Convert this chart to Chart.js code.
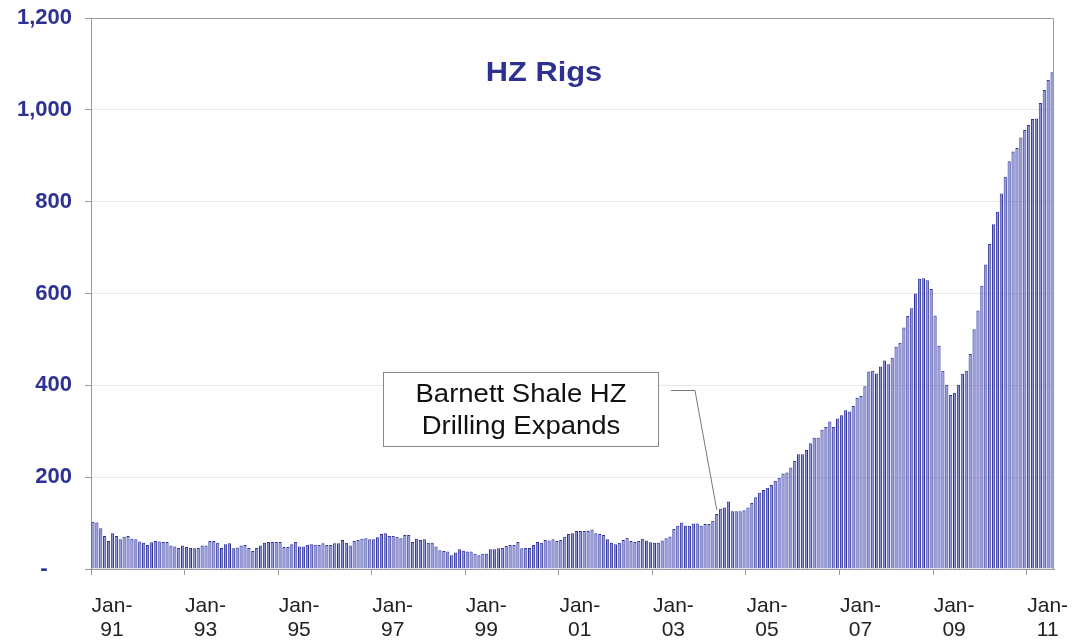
<!DOCTYPE html>
<html>
<head>
<meta charset="utf-8">
<script src="https://cdn.jsdelivr.net/npm/chart.js@4.4.1/dist/chart.umd.min.js"></script>
<style>
  html, body { margin: 0; padding: 0; background: #fff; }
  #wrap { width: 1073px; height: 644px; position: relative; }
</style>
</head>
<body>
<div id="wrap"><canvas id="rigChart"></canvas></div>
<script>
const TITLE = 'HZ Rigs';
const NOTE = ['Barnett Shale HZ', 'Drilling Expands'];
const NOTE_INDEX = 160; // May-04, where the leader line points

// monthly horizontal rig count, Jan-91 .. Jul-11
const hzRigs = [
  103, 101, 89, 72, 61, 78, 72, 65, 70, 72, 66, 65,          // 1991
  60, 57, 52, 58, 61, 60, 59, 59, 51, 49, 46, 51,            // 1992
  48, 46, 45, 46, 51, 51, 61, 61, 57, 46, 54, 56,            // 1993
  45, 47, 51, 52, 46, 39, 46, 51, 57, 59, 59, 59,            // 1994
  59, 48, 48, 54, 59, 49, 49, 53, 54, 53, 52, 56,            // 1995
  52, 52, 56, 56, 63, 57, 51, 61, 63, 66, 67, 65,            // 1996
  65, 69, 76, 78, 72, 72, 70, 67, 74, 74, 59, 66,            // 1997
  63, 65, 57, 57, 49, 41, 39, 38, 30, 36, 43, 40,            // 1998
  38, 38, 33, 30, 33, 33, 43, 43, 45, 46, 50, 52,            // 1999
  52, 59, 45, 46, 46, 52, 59, 57, 63, 62, 65, 61,            // 2000
  63, 70, 76, 78, 83, 83, 83, 83, 86, 78, 76, 74,            // 2001
  65, 57, 54, 57, 63, 68, 61, 59, 61, 66, 62, 58,            // 2002
  57, 57, 62, 67, 71, 87, 94, 101, 94, 94, 99, 99,           // 2003
  94, 98, 98, 105, 120, 131, 134, 147, 126, 126, 126, 128,   // 2004
  134, 144, 156, 166, 172, 177, 183, 192, 199, 208, 210, 221,// 2005
  235, 250, 250, 259, 274, 286, 286, 303, 309, 321, 309, 328,// 2006
  335, 346, 343, 355, 373, 377, 398, 430, 432, 426, 441, 454,// 2007
  446, 460, 484, 493, 526, 551, 568, 600, 632, 633, 629, 610,// 2008
  552, 486, 432, 401, 379, 384, 401, 425, 432, 468, 522, 563,// 2009
  617, 663, 708, 751, 778, 818, 854, 888, 909, 917, 940, 956,// 2010
  967, 980, 981, 1015, 1043, 1065, 1082                      // 2011
];

const MON = ['Jan','Feb','Mar','Apr','May','Jun','Jul','Aug','Sep','Oct','Nov','Dec'];
const months = [];
for (let i = 0; i < hzRigs.length; i++) {
  const yr = String((1991 + Math.floor(i / 12)) % 100).padStart(2, '0');
  months.push(MON[i % 12] + '-' + yr);
}

const TICK_EVERY = 24;
const yearTicks = ['91', '93', '95', '97', '99', '01', '03', '05', '07', '09', '11'];

const BLUE = '#2E3192';
const FONT = '"Liberation Sans", Arial, sans-serif';
Chart.defaults.font.family = FONT;

function wideText(ctx, txt, x, y, sx) {
  ctx.save();
  ctx.translate(x, y);
  ctx.scale(sx, 1);
  ctx.fillText(txt, 0, 0);
  ctx.restore();
}

const overlay = {
  id: 'overlay',
  afterDatasetsDraw(chart) {
    const { ctx, chartArea: a, scales } = chart;
    ctx.save();
    // frame on top and right
    ctx.strokeStyle = '#999';
    ctx.lineWidth = 1;
    ctx.beginPath();
    ctx.moveTo(a.left, a.top + 0.5);
    ctx.lineTo(a.right - 0.5, a.top + 0.5);
    ctx.lineTo(a.right - 0.5, a.bottom);
    ctx.stroke();

    // title
    ctx.fillStyle = BLUE;
    ctx.font = 'bold 28px ' + FONT;
    ctx.textAlign = 'center';
    ctx.textBaseline = 'alphabetic';
    wideText(ctx, TITLE, 544, 81, 1.1);

    // callout leader
    const px = scales.x.getPixelForValue(NOTE_INDEX);
    const py = scales.y.getPixelForValue(hzRigs[NOTE_INDEX]) - 4;
    ctx.strokeStyle = '#777';
    ctx.beginPath();
    ctx.moveTo(671, 390.5);
    ctx.lineTo(695, 390.5);
    ctx.lineTo(px, py);
    ctx.stroke();

    // callout box
    ctx.fillStyle = '#fff';
    ctx.fillRect(383, 372, 276, 75);
    ctx.strokeStyle = '#888';
    ctx.strokeRect(383.5, 372.5, 275, 74);
    ctx.fillStyle = '#111';
    ctx.font = '25px ' + FONT;
    wideText(ctx, NOTE[0], 521, 402, 1.1);
    wideText(ctx, NOTE[1], 521, 434, 1.1);
    ctx.restore();
  }
};

new Chart(document.getElementById('rigChart'), {
  type: 'bar',
  data: {
    labels: months,
    datasets: [{
      label: TITLE,
      data: hzRigs,
      backgroundColor: '#8E92D5',
      borderColor: '#2E319C',
      borderWidth: 1,
      barPercentage: 0.82,
      categoryPercentage: 1
    }]
  },
  options: {
    responsive: true,
    maintainAspectRatio: false,
    animation: false,
    layout: { padding: { top: 18, right: 19, left: 0, bottom: 0 } },
    plugins: {
      legend: { display: false },
      tooltip: { enabled: false }
    },
    scales: {
      x: {
        offset: true,
        grid: {
          offset: true,
          drawOnChartArea: false,
          tickLength: 6,
          color: c => (c.index % TICK_EVERY === 0 ? '#999' : 'rgba(0,0,0,0)')
        },
        border: { color: '#999' },
        ticks: {
          autoSkip: false,
          maxRotation: 0,
          minRotation: 0,
          padding: 19,
          labelOffset: 19,
          color: '#222',
          font: { size: 21, lineHeight: 1.15 },
          callback: (v, i) => (i % TICK_EVERY === 0 ? ['Jan-', yearTicks[i / TICK_EVERY]] : '')
        },
        afterFit: s => { s.height = 75; }
      },
      y: {
        min: 0,
        max: 1200,
        ticks: {
          stepSize: 200,
          padding: 13,
          color: BLUE,
          font: { size: 22, weight: 'bold' },
          callback: v => (v === 0 ? '-    ' : v.toLocaleString('en-US'))
        },
        grid: { color: '#e8e8e8', tickColor: '#999', tickLength: 6 },
        border: { color: '#999' },
        afterFit: s => { s.width = 91; s.paddingTop = 0; s.paddingBottom = 0; }
      }
    }
  },
  plugins: [overlay]
});
</script>
</body>
</html>
